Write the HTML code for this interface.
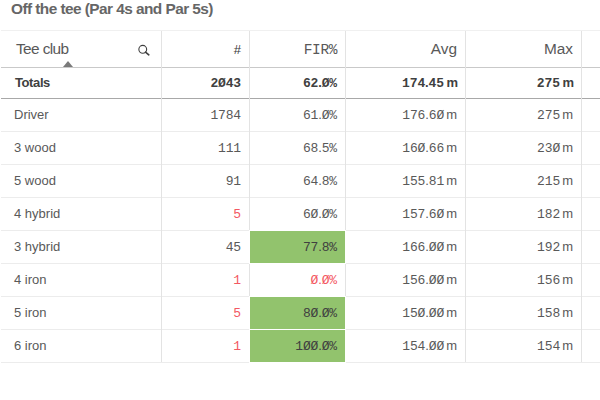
<!DOCTYPE html><html><head><meta charset="utf-8"><style>
html,body{margin:0;padding:0;background:#fff;width:600px;height:400px;overflow:hidden;position:relative}
.l{position:absolute}
.x{position:absolute;white-space:nowrap;line-height:normal}
.s{font-family:'Liberation Sans',sans-serif}
.m{font-family:'Liberation Mono',monospace}
</style></head><body>
<div class="l" style="left:1px;top:30px;width:599px;height:1px;background:#f0f0f0"></div>
<div class="l" style="left:1px;top:67px;width:599px;height:1px;background:#c9c9c9"></div>
<div class="l" style="left:1px;top:98px;width:599px;height:1px;background:#a8a8a8"></div>
<div class="l" style="left:1px;top:131px;width:599px;height:1px;background:#ececec"></div>
<div class="l" style="left:1px;top:164px;width:599px;height:1px;background:#ececec"></div>
<div class="l" style="left:1px;top:197px;width:599px;height:1px;background:#ececec"></div>
<div class="l" style="left:1px;top:230px;width:599px;height:1px;background:#ececec"></div>
<div class="l" style="left:1px;top:263px;width:599px;height:1px;background:#ececec"></div>
<div class="l" style="left:1px;top:296px;width:599px;height:1px;background:#ececec"></div>
<div class="l" style="left:1px;top:329px;width:599px;height:1px;background:#ececec"></div>
<div class="l" style="left:1px;top:362px;width:599px;height:1px;background:#ececec"></div>
<div class="l" style="left:161px;top:31px;width:1px;height:331px;background:#e3e3e3"></div>
<div class="l" style="left:249px;top:31px;width:1px;height:331px;background:#e3e3e3"></div>
<div class="l" style="left:345px;top:31px;width:1px;height:331px;background:#e3e3e3"></div>
<div class="l" style="left:465px;top:31px;width:1px;height:331px;background:#e3e3e3"></div>
<div class="l" style="left:581px;top:31px;width:1px;height:331px;background:#e3e3e3"></div>
<div class="l" style="left:249px;top:230px;width:95px;height:32px;background:#92c36d;border:1px solid #fff"></div>
<div class="l" style="left:249px;top:296px;width:95px;height:32px;background:#92c36d;border:1px solid #fff"></div>
<div class="l" style="left:249px;top:329px;width:95px;height:32px;background:#92c36d;border:1px solid #fff"></div>
<div class="x s" style="left:11px;top:0px;font-size:15.4px;color:#666666;font-weight:bold;letter-spacing:-0.55px">Off the tee (Par 4s and Par 5s)</div>
<div class="x s" style="left:16px;top:40px;font-size:15.4px;color:#595959;letter-spacing:-0.6px">Tee club</div>
<div class="x s" style="right:359px;top:42px;font-size:13px;color:#383838;">#</div>
<div class="x m" style="right:263px;top:42px;font-size:14.5px;color:#595959;letter-spacing:-0.4px">FIR%</div>
<div class="x s" style="right:143px;top:40px;font-size:15.4px;color:#595959;">Avg</div>
<div class="x s" style="right:27px;top:40px;font-size:15.4px;color:#595959;">Max</div>
<svg class="l" style="left:136px;top:42px" width="16" height="16" viewBox="0 0 16 16"><circle cx="6.75" cy="7.3" r="3.9" fill="none" stroke="#404040" stroke-width="1.1"/><path d="M9.5 10.2 L12.8 12.8" stroke="#404040" stroke-width="1.7" stroke-linecap="round"/></svg>
<svg class="l" style="left:63px;top:61px" width="10" height="6" viewBox="0 0 10 6"><path d="M0 6 L5 0 L10 6Z" fill="#7a7a7a"/></svg>
<div class="x s" style="left:15px;top:75px;font-size:13px;color:#404040;font-weight:bold;letter-spacing:-0.4px">Totals</div>
<div class="x s" style="right:359px;top:75px;font-size:13px;color:#404040;font-weight:bold;"><span style="font-size:13px;letter-spacing:-0.15px"><span class="m">2Ø43</span></span></div>
<div class="x s" style="right:263px;top:75px;font-size:13px;color:#404040;font-weight:bold;"><span style="font-size:13px;letter-spacing:-0.15px"><span class="m">62</span><span class="s">.</span><span class="m">Ø%</span></span></div>
<div class="x s" style="right:142px;top:75px;font-size:13px;color:#404040;font-weight:bold;"><span style="font-size:13px;letter-spacing:-0.15px"><span class="m">174</span><span class="s">.</span><span class="m">45</span></span><span class="s" style="font-size:13px;margin-left:-1px"> m</span></div>
<div class="x s" style="right:26px;top:75px;font-size:13px;color:#404040;font-weight:bold;"><span style="font-size:13px;letter-spacing:-0.15px"><span class="m">275</span></span><span class="s" style="font-size:13px;margin-left:-1px"> m</span></div>
<div class="x s" style="left:14px;top:107px;font-size:13px;color:#595959;">Driver</div>
<div class="x s" style="right:359px;top:107px;font-size:13px;color:#595959;"><span style="font-size:13px;letter-spacing:-0.15px"><span class="m">1784</span></span></div>
<div class="x s" style="right:263px;top:107px;font-size:13px;color:#595959;"><span style="font-size:13px;letter-spacing:-0.15px"><span class="m">61</span><span class="s">.</span><span class="m">Ø%</span></span></div>
<div class="x s" style="right:143px;top:107px;font-size:13px;color:#595959;"><span style="font-size:13px;letter-spacing:-0.15px"><span class="m">176</span><span class="s">.</span><span class="m">6Ø</span></span><span class="s" style="font-size:13px;margin-left:-1.5px"> m</span></div>
<div class="x s" style="right:27px;top:107px;font-size:13px;color:#595959;"><span style="font-size:13px;letter-spacing:-0.15px"><span class="m">275</span></span><span class="s" style="font-size:13px;margin-left:-1.5px"> m</span></div>
<div class="x s" style="left:14px;top:140px;font-size:13px;color:#595959;">3 wood</div>
<div class="x s" style="right:359px;top:140px;font-size:13px;color:#595959;"><span style="font-size:13px;letter-spacing:-0.15px"><span class="m">111</span></span></div>
<div class="x s" style="right:263px;top:140px;font-size:13px;color:#595959;"><span style="font-size:13px;letter-spacing:-0.15px"><span class="m">68</span><span class="s">.</span><span class="m">5%</span></span></div>
<div class="x s" style="right:143px;top:140px;font-size:13px;color:#595959;"><span style="font-size:13px;letter-spacing:-0.15px"><span class="m">16Ø</span><span class="s">.</span><span class="m">66</span></span><span class="s" style="font-size:13px;margin-left:-1.5px"> m</span></div>
<div class="x s" style="right:27px;top:140px;font-size:13px;color:#595959;"><span style="font-size:13px;letter-spacing:-0.15px"><span class="m">23Ø</span></span><span class="s" style="font-size:13px;margin-left:-1.5px"> m</span></div>
<div class="x s" style="left:14px;top:173px;font-size:13px;color:#595959;">5 wood</div>
<div class="x s" style="right:359px;top:173px;font-size:13px;color:#595959;"><span style="font-size:13px;letter-spacing:-0.15px"><span class="m">91</span></span></div>
<div class="x s" style="right:263px;top:173px;font-size:13px;color:#595959;"><span style="font-size:13px;letter-spacing:-0.15px"><span class="m">64</span><span class="s">.</span><span class="m">8%</span></span></div>
<div class="x s" style="right:143px;top:173px;font-size:13px;color:#595959;"><span style="font-size:13px;letter-spacing:-0.15px"><span class="m">155</span><span class="s">.</span><span class="m">81</span></span><span class="s" style="font-size:13px;margin-left:-1.5px"> m</span></div>
<div class="x s" style="right:27px;top:173px;font-size:13px;color:#595959;"><span style="font-size:13px;letter-spacing:-0.15px"><span class="m">215</span></span><span class="s" style="font-size:13px;margin-left:-1.5px"> m</span></div>
<div class="x s" style="left:14px;top:206px;font-size:13px;color:#595959;">4 hybrid</div>
<div class="x s" style="right:359px;top:206px;font-size:13px;color:#f35862;"><span style="font-size:13px;letter-spacing:-0.15px"><span class="m">5</span></span></div>
<div class="x s" style="right:263px;top:206px;font-size:13px;color:#595959;"><span style="font-size:13px;letter-spacing:-0.15px"><span class="m">6Ø</span><span class="s">.</span><span class="m">Ø%</span></span></div>
<div class="x s" style="right:143px;top:206px;font-size:13px;color:#595959;"><span style="font-size:13px;letter-spacing:-0.15px"><span class="m">157</span><span class="s">.</span><span class="m">6Ø</span></span><span class="s" style="font-size:13px;margin-left:-1.5px"> m</span></div>
<div class="x s" style="right:27px;top:206px;font-size:13px;color:#595959;"><span style="font-size:13px;letter-spacing:-0.15px"><span class="m">182</span></span><span class="s" style="font-size:13px;margin-left:-1.5px"> m</span></div>
<div class="x s" style="left:14px;top:239px;font-size:13px;color:#595959;">3 hybrid</div>
<div class="x s" style="right:359px;top:239px;font-size:13px;color:#595959;"><span style="font-size:13px;letter-spacing:-0.15px"><span class="m">45</span></span></div>
<div class="x s" style="right:263px;top:239px;font-size:13px;color:#404040;"><span style="font-size:13px;letter-spacing:-0.15px"><span class="m">77</span><span class="s">.</span><span class="m">8%</span></span></div>
<div class="x s" style="right:143px;top:239px;font-size:13px;color:#595959;"><span style="font-size:13px;letter-spacing:-0.15px"><span class="m">166</span><span class="s">.</span><span class="m">ØØ</span></span><span class="s" style="font-size:13px;margin-left:-1.5px"> m</span></div>
<div class="x s" style="right:27px;top:239px;font-size:13px;color:#595959;"><span style="font-size:13px;letter-spacing:-0.15px"><span class="m">192</span></span><span class="s" style="font-size:13px;margin-left:-1.5px"> m</span></div>
<div class="x s" style="left:14px;top:272px;font-size:13px;color:#595959;">4 iron</div>
<div class="x s" style="right:359px;top:272px;font-size:13px;color:#f35862;"><span style="font-size:13px;letter-spacing:-0.15px"><span class="m">1</span></span></div>
<div class="x s" style="right:263px;top:272px;font-size:13px;color:#f35862;"><span style="font-size:13px;letter-spacing:-0.15px"><span class="m">Ø</span><span class="s">.</span><span class="m">Ø%</span></span></div>
<div class="x s" style="right:143px;top:272px;font-size:13px;color:#595959;"><span style="font-size:13px;letter-spacing:-0.15px"><span class="m">156</span><span class="s">.</span><span class="m">ØØ</span></span><span class="s" style="font-size:13px;margin-left:-1.5px"> m</span></div>
<div class="x s" style="right:27px;top:272px;font-size:13px;color:#595959;"><span style="font-size:13px;letter-spacing:-0.15px"><span class="m">156</span></span><span class="s" style="font-size:13px;margin-left:-1.5px"> m</span></div>
<div class="x s" style="left:14px;top:305px;font-size:13px;color:#595959;">5 iron</div>
<div class="x s" style="right:359px;top:305px;font-size:13px;color:#f35862;"><span style="font-size:13px;letter-spacing:-0.15px"><span class="m">5</span></span></div>
<div class="x s" style="right:263px;top:305px;font-size:13px;color:#404040;"><span style="font-size:13px;letter-spacing:-0.15px"><span class="m">8Ø</span><span class="s">.</span><span class="m">Ø%</span></span></div>
<div class="x s" style="right:143px;top:305px;font-size:13px;color:#595959;"><span style="font-size:13px;letter-spacing:-0.15px"><span class="m">15Ø</span><span class="s">.</span><span class="m">ØØ</span></span><span class="s" style="font-size:13px;margin-left:-1.5px"> m</span></div>
<div class="x s" style="right:27px;top:305px;font-size:13px;color:#595959;"><span style="font-size:13px;letter-spacing:-0.15px"><span class="m">158</span></span><span class="s" style="font-size:13px;margin-left:-1.5px"> m</span></div>
<div class="x s" style="left:14px;top:338px;font-size:13px;color:#595959;">6 iron</div>
<div class="x s" style="right:359px;top:338px;font-size:13px;color:#f35862;"><span style="font-size:13px;letter-spacing:-0.15px"><span class="m">1</span></span></div>
<div class="x s" style="right:263px;top:338px;font-size:13px;color:#404040;"><span style="font-size:13px;letter-spacing:-0.15px"><span class="m">1ØØ</span><span class="s">.</span><span class="m">Ø%</span></span></div>
<div class="x s" style="right:143px;top:338px;font-size:13px;color:#595959;"><span style="font-size:13px;letter-spacing:-0.15px"><span class="m">154</span><span class="s">.</span><span class="m">ØØ</span></span><span class="s" style="font-size:13px;margin-left:-1.5px"> m</span></div>
<div class="x s" style="right:27px;top:338px;font-size:13px;color:#595959;"><span style="font-size:13px;letter-spacing:-0.15px"><span class="m">154</span></span><span class="s" style="font-size:13px;margin-left:-1.5px"> m</span></div>
</body></html>
